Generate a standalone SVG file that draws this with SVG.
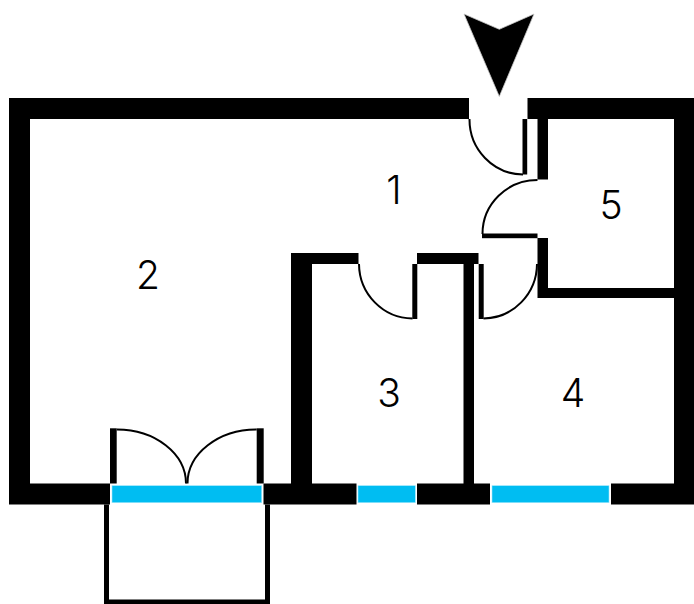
<svg xmlns="http://www.w3.org/2000/svg" width="694" height="604" viewBox="0 0 694 604">
<style>
.wall{fill:#000}
.win{fill:#00bdf2;stroke:#9fe6fa;stroke-width:.6}
.swing{fill:none;stroke:#000;stroke-width:2}
.num{font-family:"Inter","Liberation Sans",sans-serif;font-size:39px;font-weight:300;fill:#000;text-anchor:middle}
</style>
<rect width="694" height="604" fill="#fff"/>
<g id="walls">
<path class="wall" d="M9 98H469V119H30V483.5H110V504.5H9Z"/>
<path class="wall" d="M527.5 98H694V504.5H611V483.5H674V298H537.500V238H548V288H674V119H548V179.5H537.5V119H527.5Z"/>
<path class="wall" d="M291 253H358.5V264H312V483.5H356.5V504.5H263.5V483.5H291Z"/>
<path class="wall" d="M417 253H478.5V264H474V483.5H490V504.5H417V483.5H463.5V264H417Z"/>
</g>
<g id="windows">
<rect class="win" x="112" y="485.7" width="149.7" height="17"/>
<rect class="win" x="358" y="485.7" width="57.3" height="17"/>
<rect class="win" x="492" y="485.7" width="117" height="17"/>
</g>
<g id="doors">
<rect class="wall" x="522.5" y="119" width="4.7" height="55.5"/>
<path class="swing" d="M469.5 119A54 55 0 0 0 523 174.500"/>
<rect class="wall" x="482" y="233.5" width="55.5" height="4.7"/>
<path class="swing" d="M537.5 180A55 54 0 0 0 482.500 234"/>
<rect class="wall" x="412.300" y="264" width="5" height="55"/>
<path class="swing" d="M359 264A54 55 0 0 0 412.500 318.500"/>
<rect class="wall" x="478.700" y="264" width="5" height="55"/>
<path class="swing" d="M537 264A54 55 0 0 1 483.500 318.500"/>
<rect class="wall" x="110" y="428.300" width="6.700" height="55.200"/>
<rect class="wall" x="256.700" y="428.300" width="7" height="55.200"/>
<path class="swing" d="M116.700 429.500A69 54 0 0 1 186 483.500" stroke-width="2.500"/>
<path class="swing" d="M256.700 429.500A69 54 0 0 0 187.500 483.500" stroke-width="2.500"/>
</g>
<g id="porch">
<path class="wall" d="M104 504.500H109V599.500H265V504.500H270V604H104Z"/>
</g>
<g id="entry-arrow">
<path d="M464 14L499.300 29.300L534 14L499.300 96.500Z" fill="#000" stroke="#c8c8c8" stroke-width=".8" stroke-miterlimit="10"/>
</g>
<g id="room-1"><text class="num" x="394" y="204">1</text></g>
<g id="room-2"><text class="num" x="148" y="289">2</text></g>
<g id="room-3"><text class="num" x="389" y="407">3</text></g>
<g id="room-4"><text class="num" x="573" y="407">4</text></g>
<g id="room-5"><text class="num" x="611" y="219">5</text></g>
</svg>
